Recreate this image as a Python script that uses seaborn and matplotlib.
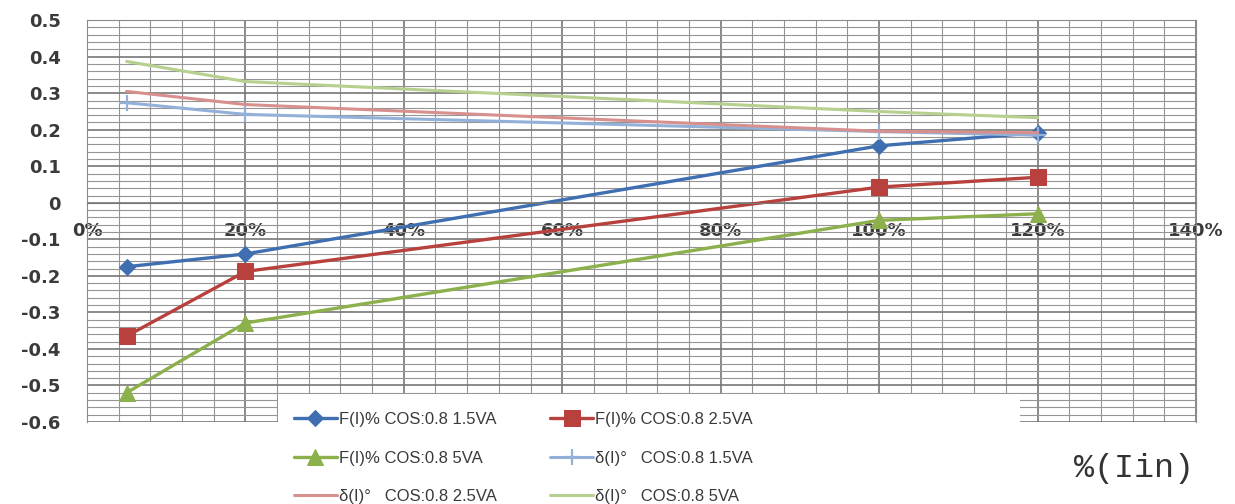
import numpy as np
import pandas as pd
import matplotlib
matplotlib.use('Agg')
import matplotlib.pyplot as plt
import seaborn as sns
from matplotlib.patches import Rectangle
from matplotlib.ticker import MultipleLocator, PercentFormatter

# load points (fraction of rated input current)
x_load = [0.05, 0.20, 1.00, 1.20]

# ratio error F(I)%
f_15va = [-0.175, -0.140, 0.156, 0.192]
f_25va = [-0.365, -0.188, 0.043, 0.070]
f_5va = [-0.520, -0.329, -0.048, -0.030]

# phase error delta(I)
d_15va = [0.274, 0.242, 0.195, 0.185]
d_25va = [0.305, 0.269, 0.196, 0.192]
d_5va = [0.387, 0.332, 0.250, 0.233]

series_names = [
    'F(I)% COS:0.8 1.5VA', 'F(I)% COS:0.8 2.5VA', 'F(I)% COS:0.8 5VA',
    'δ(I)°   COS:0.8 1.5VA', 'δ(I)°   COS:0.8 2.5VA', 'δ(I)°   COS:0.8 5VA',
]
series_values = [f_15va, f_25va, f_5va, d_15va, d_25va, d_5va]

colors = ['#3f6fb0', '#b8403d', '#8cb04c', '#93b1d8', '#d8908e', '#b7d08f']
styles = [
    dict(marker='D', markersize=8.5, linewidth=2.4),
    dict(marker='s', markersize=11, linewidth=2.4),
    dict(marker='^', markersize=11, linewidth=2.4),
    dict(marker='+', markersize=11, markeredgewidth=1.6, linewidth=2.2),
    dict(marker=None, linewidth=2.2),
    dict(marker=None, linewidth=2.2),
]

df = pd.DataFrame({
    'load': np.tile(x_load, len(series_names)),
    'value': np.concatenate(series_values),
    'series': np.repeat(series_names, len(x_load)),
})

sns.set_style('white')
plt.rcParams['font.family'] = ['Liberation Sans', 'DejaVu Sans']

fig = plt.figure(figsize=(12.35, 5.04), dpi=100)
ax = fig.add_axes([0.0704, 0.1627, 0.8980, 0.7973])

for name, col, st in zip(series_names, colors, styles):
    sub = df[df['series'] == name]
    sns.lineplot(data=sub, x='load', y='value', ax=ax, label=name,
                 legend=False, sort=False, color=col,
                 markeredgecolor=col, markerfacecolor=col, **st)

ax.set_xlim(0, 1.4)
ax.set_ylim(-0.6, 0.5)
ax.xaxis.set_major_locator(MultipleLocator(0.2))
ax.xaxis.set_minor_locator(MultipleLocator(0.04))
ax.yaxis.set_major_locator(MultipleLocator(0.1))
ax.yaxis.set_minor_locator(MultipleLocator(0.02))
ax.xaxis.set_major_formatter(PercentFormatter(1.0, decimals=0))
ax.yaxis.set_major_formatter(plt.FuncFormatter(
    lambda v, p: '0' if abs(v) < 1e-9 else f'{v:.1f}'))

ax.set_axisbelow(True)
ax.grid(which='major', color='#777777', linewidth=1.2)
ax.grid(which='minor', color='#959595', linewidth=0.8)

for side in ['top', 'right', 'left']:
    ax.spines[side].set_color('#8a8a8a')
ax.spines['bottom'].set_position(('data', 0))
ax.spines['bottom'].set_color('#777777')

ax.tick_params(axis='y', which='major', direction='out', length=9, width=1,
               color='#8a8a8a', pad=10, labelcolor='#3a3a3a')
ax.tick_params(axis='y', which='minor', length=0)
ax.tick_params(axis='x', which='both', length=0, pad=14, labelcolor='#3a3a3a')
for lab in ax.get_xticklabels() + ax.get_yticklabels():
    lab.set_fontfamily('DejaVu Sans')
    lab.set_fontweight('semibold')
    lab.set_fontsize(13)
ax.set_xlabel('')
ax.set_ylabel('')

# white legend area that covers the lower part of the grid
fig.add_artist(Rectangle((278 / 1235, 0), (1020 - 278) / 1235, 1 - 394 / 504,
                         transform=fig.transFigure, facecolor='white',
                         edgecolor='none', zorder=2))

# legend: Excel order is row-wise, matplotlib fills column-wise
handles, labels = ax.get_legend_handles_labels()
order = [0, 2, 4, 1, 3, 5]
leg = fig.legend([handles[i] for i in order], [labels[i] for i in order],
                 ncol=2, loc='upper left', bbox_to_anchor=(0.227, 0.209),
                 frameon=False, fontsize=12, handlelength=2.6,
                 handletextpad=0.1, columnspacing=3.2, labelspacing=1.42,
                 borderpad=0.3, labelcolor='#3a3a3a')
leg.set_zorder(3)

fig.text(0.870, 0.071, '%(Iin)', family='Liberation Mono', fontsize=24,
         color='#333333', ha='left', va='center')

fig.savefig('out.png', dpi=100)
